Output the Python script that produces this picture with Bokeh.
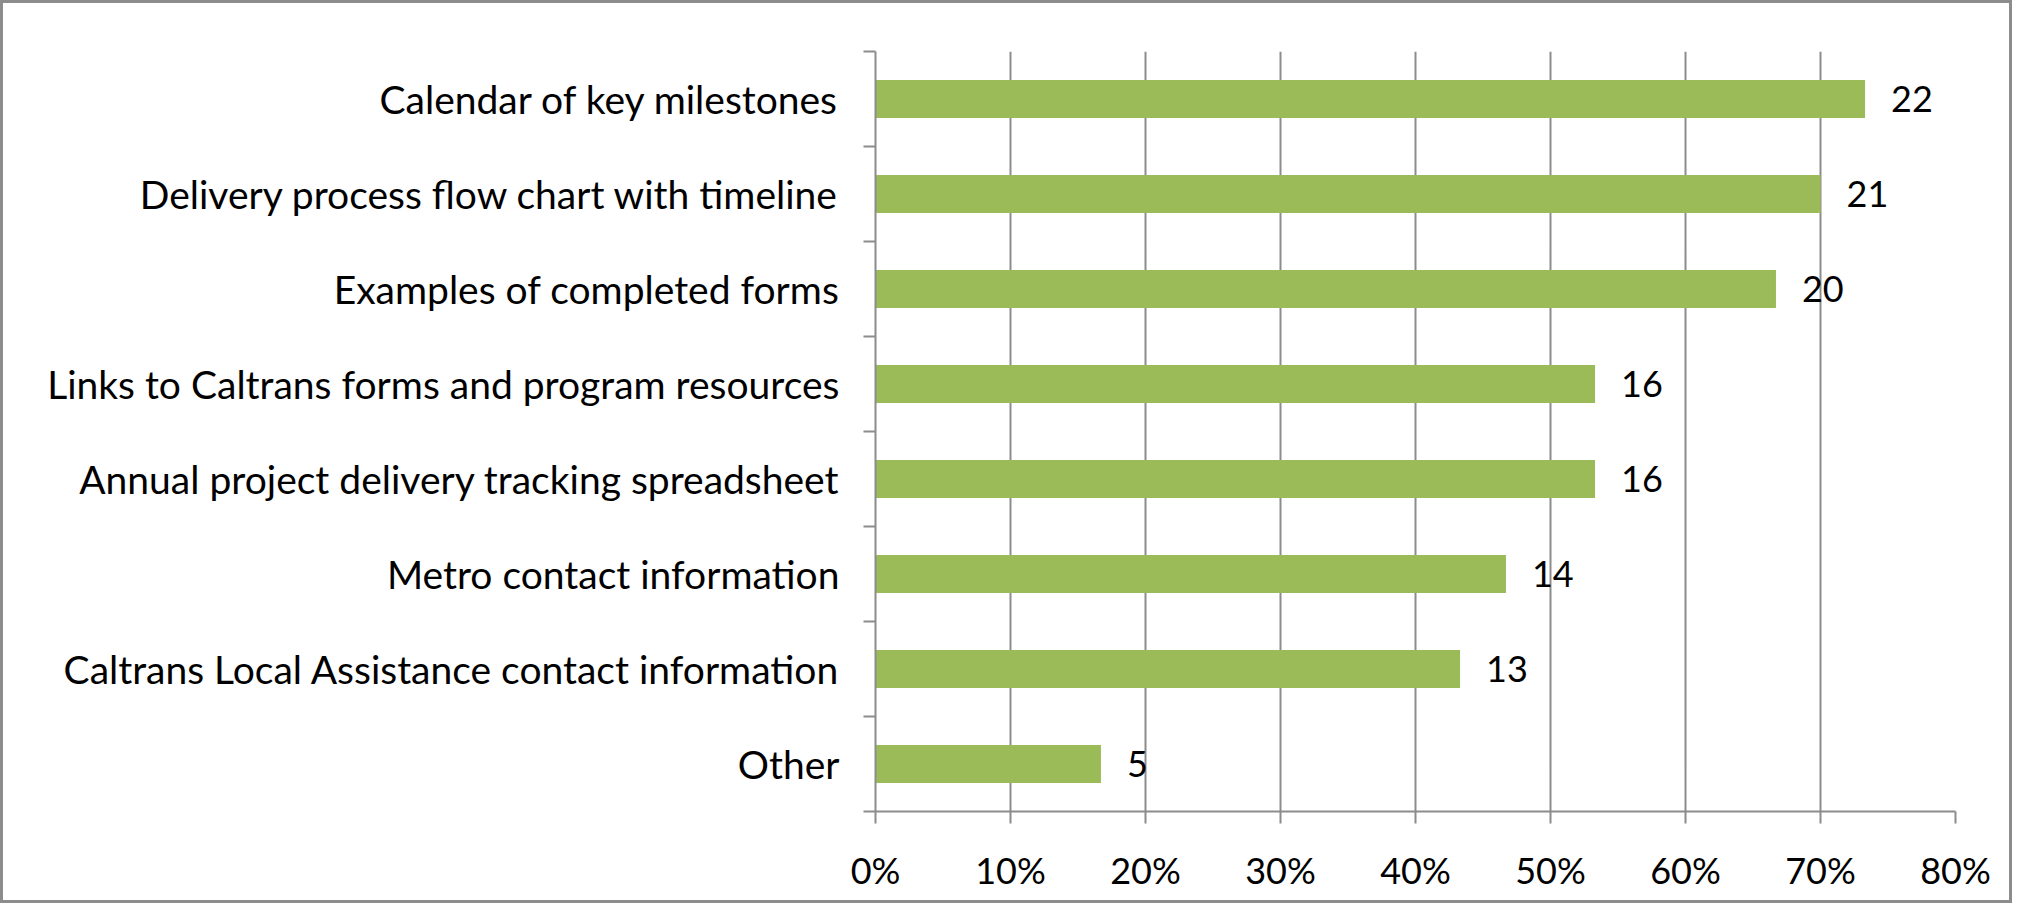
from bokeh.plotting import figure
from bokeh.models import ColumnDataSource, FixedTicker, NumeralTickFormatter, Range1d
from bokeh.core.properties import value
from bokeh.embed import file_html
from bokeh.resources import INLINE

categories = [
    "Calendar of key milestones",
    "Delivery process flow chart with timeline",
    "Examples of completed forms",
    "Links to Caltrans forms and program resources",
    "Annual project delivery tracking spreadsheet",
    "Metro contact information",
    "Caltrans Local Assistance contact information",
    "Other",
]
counts = [22, 21, 20, 16, 16, 14, 13, 5]
shares = [0.733, 0.700, 0.667, 0.533, 0.533, 0.467, 0.433, 0.167]
x_ticks = [0.0, 0.1, 0.2, 0.3, 0.4, 0.5, 0.6, 0.7, 0.8]

FONT = "Lato"
FS_CAT = "39px"
FS_NUM = "36px"
n = len(categories)
centers = [n - i - 0.5 for i in range(n)]

src = ColumnDataSource(dict(cat=categories, y=centers, share=shares,
                            label=[str(c) for c in counts]))

p = figure(width=2012, height=903, output_backend="svg", toolbar_location=None,
           x_range=Range1d(0, 0.8), y_range=Range1d(0, n),
           min_border_left=872, min_border_right=60, min_border_top=48, min_border_bottom=95)
p.styles = {"border": "3px solid #8c8c8c", "box-sizing": "border-box"}
p.outline_line_color = None
p.background_fill_color = "white"

p.hbar(y="y", left=0, right="share", height=0.4, source=src,
       fill_color="#9BBB59", line_color=None)
p.text(x="share", y="y", text="label", source=src, x_offset=26,
       text_baseline="middle", text_align="left",
       text_font=value(FONT), text_font_size=value(FS_NUM), text_color="#000000")

# x axis
xa = p.xaxis[0]
xa.ticker = FixedTicker(ticks=x_ticks)
xa.formatter = NumeralTickFormatter(format="0%")
xa.axis_line_color = "#8c8c8c"
xa.axis_line_width = 2
xa.major_tick_line_color = "#8c8c8c"
xa.major_tick_line_width = 2
xa.major_tick_out = 12
xa.major_tick_in = 0
xa.minor_tick_line_color = None
xa.major_label_standoff = 24
xa.major_label_text_font = FONT
xa.major_label_text_font_size = FS_NUM
xa.major_label_text_color = "#000000"

# y axis: labels at centers, tick marks at category boundaries
ya = p.yaxis[0]
ya.ticker = FixedTicker(ticks=centers, minor_ticks=list(range(n + 1)))
ya.major_label_overrides = {c: lab for c, lab in zip(centers, categories)}
ya.axis_line_color = "#8c8c8c"
ya.axis_line_width = 2
ya.major_tick_line_color = None
ya.major_tick_out = 0
ya.major_tick_in = 0
ya.minor_tick_line_color = "#8c8c8c"
ya.minor_tick_line_width = 2
ya.minor_tick_out = 12
ya.minor_tick_in = 0
ya.major_label_standoff = 24
ya.major_label_text_font = FONT
ya.major_label_text_font_size = FS_CAT
ya.major_label_text_color = "#000000"

p.xgrid.ticker = FixedTicker(ticks=x_ticks)
p.xgrid.grid_line_color = "#8c8c8c"
p.xgrid.grid_line_width = 2
p.ygrid.grid_line_color = None

open("out.html", "w").write(file_html(p, INLINE))
